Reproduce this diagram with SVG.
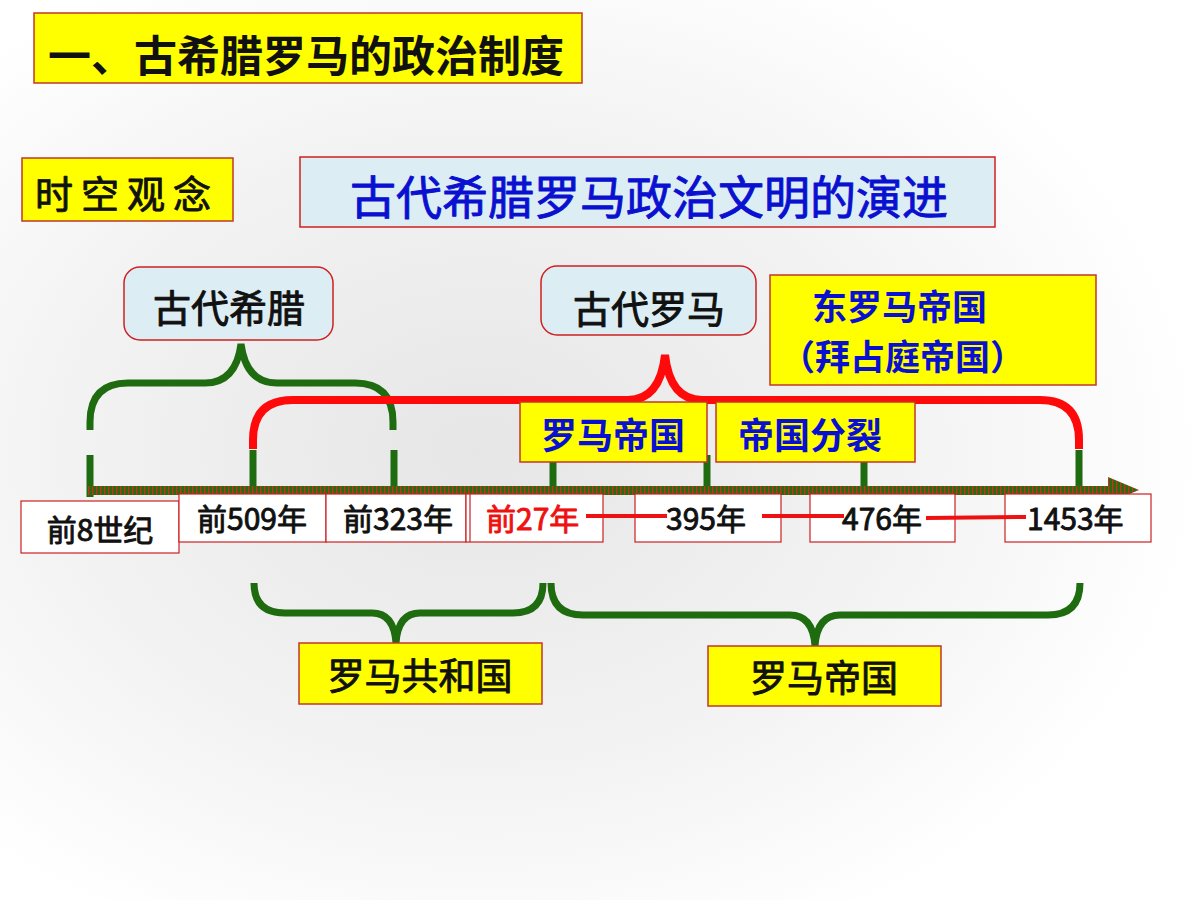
<svg xmlns="http://www.w3.org/2000/svg" width="1200" height="900" viewBox="0 0 1200 900">
<defs>
<radialGradient id="bg" cx="0.4" cy="0.5" r="0.6">
<stop offset="0" stop-color="#e6e6e6"/>
<stop offset="0.6" stop-color="#f3f3f3"/>
<stop offset="1" stop-color="#ffffff"/>
</radialGradient>
<pattern id="axisPat" width="4" height="12" patternUnits="userSpaceOnUse">
<rect width="4" height="12" fill="#2a6a10"/>
<rect x="0" width="1.3" height="12" fill="#c8321a"/>
</pattern>
<style>
.t{font-family:"Microsoft YaHei","Noto Sans CJK SC","Noto Sans",sans-serif;font-weight:bold}
.m{font-weight:normal;stroke-width:0.9;stroke-linejoin:round}
.bk.m{stroke:#111111}
.bl.m{stroke:#0a10d0}
.rd.m{stroke:#ee1111}
.yel{fill:#ffff00;stroke:#c0392b;stroke-width:1.5}
.blu{fill:#dcedf4;stroke:#d02020;stroke-width:1.5}
.date{fill:#ffffff;stroke:#cc2020;stroke-width:1.2}
.grn{fill:none;stroke:#1f6b10;stroke-width:7;stroke-linecap:butt}
.red{fill:none;stroke:#ff0a0a;stroke-width:8}
.rl{stroke:#ee1111;stroke-width:4}
.bk{fill:#111111}
.bl{fill:#0a10d0}
.rd{fill:#ee1111}
</style>
</defs>
<rect width="1200" height="900" fill="url(#bg)"/>

<g id="title">
<rect class="yel" x="34" y="13" width="548" height="70"/>
<text class="t bk" x="48" y="72" font-size="43">一、古希腊罗马的政治制度</text>
</g>
<g id="shikong">
<rect class="yel" x="22" y="158" width="211" height="63"/>
<text class="t bk m" x="35" y="208" font-size="38" letter-spacing="8">时空观念</text>
</g>
<g id="subtitle">
<rect class="blu" x="300" y="157" width="695" height="70"/>
<text class="t bl m" x="649" y="214" font-size="46" text-anchor="middle">古代希腊罗马政治文明的演进</text>
</g>
<g id="greece">
<rect class="blu" x="124" y="267" width="209" height="73" rx="16"/>
<text class="t bk m" x="229" y="322" font-size="38" text-anchor="middle">古代希腊</text>
</g>
<g id="rome">
<rect class="blu" x="541" y="266" width="215" height="69" rx="16"/>
<text class="t bk m" x="649" y="323" font-size="38" text-anchor="middle">古代罗马</text>
</g>
<g id="byzantine">
<rect class="yel" x="770" y="275" width="326" height="110"/>
<text class="t bl" x="812" y="320" font-size="35">东罗马帝国</text>
<text class="t bl" x="780" y="370" font-size="35">（拜占庭帝国）</text>
</g>

<g id="connectors">
<path class="grn" d="M90,430 V422 Q90,383 128,383 H205 Q236,383 241,344 Q246,383 277,383 H355 Q393,383 393,422 V430"/>
<path class="red" d="M253,449 V440 Q253,400 293,400 H628 Q660,400 665,355 Q670,400 702,400 H1040 Q1079,400 1079,440 V449"/>
<line class="grn" x1="90" y1="455" x2="90" y2="497"/>
<line class="grn" x1="253" y1="450" x2="253" y2="497"/>
<line class="grn" x1="394" y1="450" x2="394" y2="497"/>
<line class="grn" x1="553" y1="460" x2="553" y2="497"/>
<line class="grn" x1="707" y1="455" x2="707" y2="497"/>
<line class="grn" x1="864" y1="460" x2="864" y2="497"/>
<line class="grn" x1="1079" y1="450" x2="1079" y2="497"/>
<path class="grn" d="M254,583 Q254,613 285,613 H372 Q394,613 396,643 Q398,613 420,613 H513 Q543,613 543,583"/>
<path class="grn" d="M551,583 Q551,615 583,615 H790 Q813,615 815,646 Q817,615 840,615 H1048 Q1080,615 1080,583"/>
<rect x="88" y="486" width="1024" height="9" fill="url(#axisPat)"/>
<polygon points="1108,477 1139,490 1108,503" fill="url(#axisPat)"/>
</g>

<g id="d_8c">
<rect class="date" x="21" y="501" width="158" height="52"/>
<text class="t bk m" x="100" y="541" font-size="30" text-anchor="middle">前8世纪</text>
</g>
<g id="d_509">
<rect class="date" x="179" y="494" width="147" height="48"/>
<text class="t bk m" x="252" y="530" font-size="30" text-anchor="middle">前509年</text>
</g>
<g id="d_323">
<rect class="date" x="326" y="494" width="140" height="48"/>
<text class="t bk m" x="398" y="530" font-size="30" text-anchor="middle">前323年</text>
</g>
<g id="d_27">
<rect class="date" x="466" y="494" width="137" height="48"/>
<line x1="470" y1="494" x2="470" y2="542" stroke="#cc2020" stroke-width="1.2"/>
<text class="t rd m" x="486" y="530" font-size="30">前27年</text>
</g>
<g id="d_395">
<rect class="date" x="635" y="494" width="146" height="48"/>
<text class="t bk m" x="666" y="530" font-size="30">395年</text>
</g>
<g id="d_476">
<rect class="date" x="810" y="494" width="145" height="48"/>
<text class="t bk m" x="842" y="530" font-size="30">476年</text>
</g>
<g id="d_1453">
<rect class="date" x="1005" y="494" width="146" height="48"/>
<text class="t bk m" x="1027" y="530" font-size="30">1453年</text>
</g>

<g id="redlinks">
<line class="rl" x1="586" y1="516" x2="667" y2="516"/>
<line class="rl" x1="762" y1="516" x2="844" y2="516"/>
<line class="rl" x1="926" y1="518" x2="1026" y2="517"/>
</g>

<g id="empire_top">
<rect class="yel" x="520" y="402" width="187" height="60"/>
<text class="t bl" x="613" y="449" font-size="36" text-anchor="middle">罗马帝国</text>
</g>
<g id="split">
<rect class="yel" x="716" y="402" width="199" height="60"/>
<text class="t bl" x="810" y="449" font-size="36" text-anchor="middle">帝国分裂</text>
</g>
<g id="republic">
<rect class="yel" x="299" y="643" width="243" height="61"/>
<text class="t bk m" x="420" y="690" font-size="37" text-anchor="middle">罗马共和国</text>
</g>
<g id="empire_bottom">
<rect class="yel" x="708" y="646" width="233" height="60"/>
<text class="t bk m" x="824" y="692" font-size="37" text-anchor="middle">罗马帝国</text>
</g>
</svg>
